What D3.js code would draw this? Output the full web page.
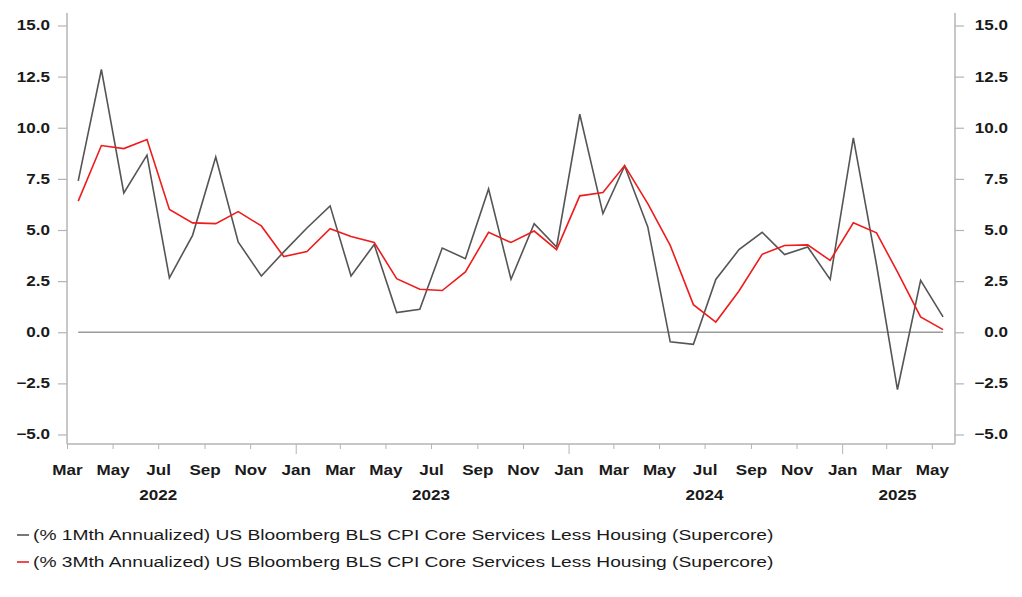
<!DOCTYPE html>
<html>
<head>
<meta charset="utf-8">
<script src="https://cdn.jsdelivr.net/npm/d3@7/dist/d3.min.js"></script>
<style>
  html, body { margin: 0; padding: 0; background: #fff; }
  svg { display: block; }
  text { font-family: "Liberation Sans", Arial, sans-serif; fill: #1a1a1a; }
</style>
</head>
<body>
<svg id="chart" width="1022" height="597"></svg>
<script>
// ---------- DATA ----------
const months = d3.range(39).map(i => new Date(Date.UTC(2022, 2 + i, 16)));   // Mar 2022 .. May 2025 (mid-month)
const oneMonth = [7.40, 12.85, 6.81, 8.66, 2.66, 4.74, 8.57, 4.42, 2.75, 3.93,
                  5.10, 6.18, 2.75, 4.29, 0.96, 1.12, 4.12, 3.60, 7.01, 2.59, 5.31, 4.17,
                  10.66, 5.80, 8.13, 5.15, -0.47, -0.59, 2.58, 4.04, 4.89, 3.80, 4.17, 2.58,
                  9.50, 3.30, -2.80, 2.54, 0.75];
const threeMonth = [6.41, 9.13, 8.98, 9.42, 6.00, 5.35, 5.31, 5.90, 5.20, 3.70,
                    3.95, 5.06, 4.68, 4.39, 2.62, 2.10, 2.04, 2.95, 4.89, 4.39, 4.95, 4.04,
                    6.67, 6.83, 8.15, 6.29, 4.25, 1.35, 0.50, 2.02, 3.81, 4.24, 4.27, 3.51,
                    5.35, 4.86, 2.95, 0.75, 0.13];
const yTicks = [-5, -2.5, 0, 2.5, 5, 7.5, 10, 12.5, 15];
const monthNames = ["Jan","Feb","Mar","Apr","May","Jun","Jul","Aug","Sep","Oct","Nov","Dec"];
const yearLabels = [
  { label: "2022", date: new Date(Date.UTC(2022, 6, 1)) },
  { label: "2023", date: new Date(Date.UTC(2023, 6, 1)) },
  { label: "2024", date: new Date(Date.UTC(2024, 6, 1)) },
  { label: "2025", date: new Date(Date.UTC(2025, 2, 16)) }
];
const seriesNames = [
  "(% 1Mth Annualized) US Bloomberg BLS CPI Core Services Less Housing (Supercore)",
  "(% 3Mth Annualized) US Bloomberg BLS CPI Core Services Less Housing (Supercore)"
];
const seriesColors = ["#555555", "#ee1c1c"];

// ---------- LAYOUT ----------
const L = 67, R = 955, T = 13, B = 444;
const SX = 1.22; // horizontal text stretch seen in the reference
const svg = d3.select("#chart");

const x = d3.scaleUtc()
  .domain([new Date(Date.UTC(2022, 2, 1)), new Date(Date.UTC(2025, 5, 1))])
  .range([L, R]);
const y = d3.scaleLinear().domain([-5, 15]).range([434.5, 25.5]);

const axisColor = "#b4b4b4";

// frame lines (left, right, bottom)
svg.append("line").attr("x1", L).attr("x2", L).attr("y1", T).attr("y2", B)
  .attr("stroke", axisColor).attr("stroke-width", 1.5);
svg.append("line").attr("x1", R).attr("x2", R).attr("y1", T).attr("y2", B)
  .attr("stroke", axisColor).attr("stroke-width", 1.5);
svg.append("line").attr("x1", L).attr("x2", R).attr("y1", B).attr("y2", B)
  .attr("stroke", axisColor).attr("stroke-width", 1.5);

// left axis
const gl = svg.append("g").attr("transform", `translate(${L},0)`)
  .call(d3.axisLeft(y).tickValues(yTicks).tickFormat(d3.format(".1f")).tickSize(9).tickSizeOuter(0));
gl.select(".domain").remove();
gl.selectAll(".tick line").attr("stroke", axisColor).attr("stroke-width", 1.2);
gl.selectAll(".tick text")
  .attr("x", -17 / SX).attr("transform", `scale(${SX},1)`)
  .style("font-size", "14px").style("font-weight", "bold").attr("fill", "#1a1a1a");

// right axis
const gr = svg.append("g").attr("transform", `translate(${R},0)`)
  .call(d3.axisRight(y).tickValues(yTicks).tickFormat(d3.format(".1f")).tickSize(9).tickSizeOuter(0));
gr.select(".domain").remove();
gr.selectAll(".tick line").attr("stroke", axisColor).attr("stroke-width", 1.2);
gr.selectAll(".tick text")
  .attr("text-anchor", "end")
  .attr("x", 53 / SX).attr("transform", `scale(${SX},1)`)
  .style("font-size", "14px").style("font-weight", "bold").attr("fill", "#1a1a1a");

// bottom axis (every 2 months)
const tickDates = d3.range(0, 39, 2).map(i => new Date(Date.UTC(2022, 2 + i, 1)));
const gb = svg.append("g").attr("transform", `translate(0,${B})`)
  .call(d3.axisBottom(x).tickValues(tickDates)
    .tickFormat(d => monthNames[d.getUTCMonth()]).tickSize(5).tickSizeOuter(0).tickPadding(16));
gb.select(".domain").remove();
gb.selectAll(".tick line")
  .attr("stroke", axisColor).attr("stroke-width", 1)
  .attr("y2", d => d.getUTCMonth() === 0 ? 10 : 5);
gb.selectAll(".tick text")
  .attr("x", 0).attr("transform", `scale(${SX},1)`)
  .style("font-size", "14px").style("font-weight", "bold").attr("fill", "#1a1a1a");

// year labels
svg.append("g").selectAll("text").data(yearLabels).join("text")
  .attr("transform", d => `translate(${x(d.date)},500) scale(${SX},1)`)
  .attr("text-anchor", "middle")
  .style("font-size", "14px").style("font-weight", "bold")
  .text(d => d.label);

// zero line
const zeroLine = d3.line().x(d => x(d)).y(() => y(0));
svg.append("path").datum(months).attr("d", zeroLine)
  .attr("fill", "none").attr("stroke", "#9a9a9a").attr("stroke-width", 1.5);

// series
const line = d3.line().x((d, i) => x(months[i])).y(d => y(d));
svg.append("path").datum(oneMonth).attr("d", line)
  .attr("fill", "none").attr("stroke", seriesColors[0]).attr("stroke-width", 1.6)
  .attr("stroke-linejoin", "miter");
svg.append("path").datum(threeMonth).attr("d", line)
  .attr("fill", "none").attr("stroke", seriesColors[1]).attr("stroke-width", 1.6)
  .attr("stroke-linejoin", "miter");

// legend
const LSX = 1.24;
const lg = svg.append("g").selectAll("g").data(seriesNames).join("g")
  .attr("transform", (d, i) => `translate(17,${535 + i * 27})`);
lg.append("line").attr("x1", 0).attr("x2", 12).attr("y1", 0).attr("y2", 0)
  .attr("stroke", (d, i) => seriesColors[i]).attr("stroke-width", 1.6);
lg.append("text")
  .attr("transform", `translate(16,0) scale(${LSX},1)`)
  .attr("dy", "0.35em")
  .style("font-size", "15.5px")
  .text(d => d);
</script>
</body>
</html>
